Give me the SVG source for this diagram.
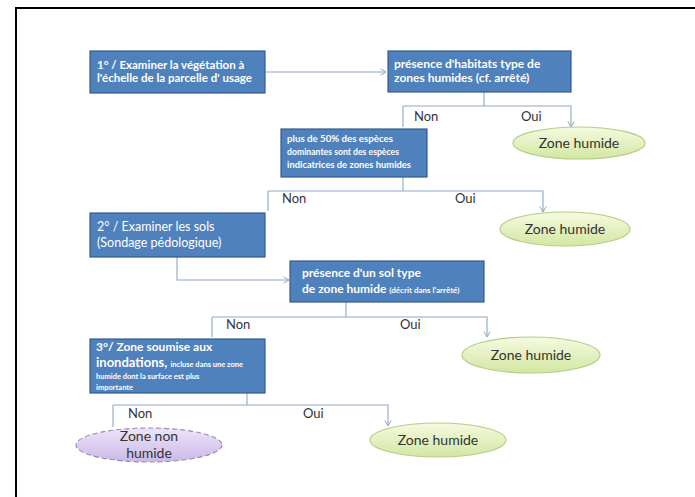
<svg xmlns="http://www.w3.org/2000/svg" width="695" height="497" viewBox="0 0 695 497">
<defs>
<style>
.box{fill:#4F81BD;stroke:#385D8A;stroke-width:1.2}
.bt{fill:#ffffff;font-family:Lato,"Open Sans","Liberation Sans",sans-serif;font-weight:bold}
.bn{fill:#ffffff;font-family:Lato,"Open Sans","Liberation Sans",sans-serif;font-weight:normal}
.lbl{fill:#333333;font-family:Lato,"Open Sans","Liberation Sans",sans-serif;font-size:13px}
.con{fill:none;stroke:#8FA7C4;stroke-width:1.1;marker-end:url(#arr)}
.line{fill:none;stroke:#8FA7C4;stroke-width:1.1}
.ell{fill:url(#gGreen);stroke:#B5CD85;stroke-width:1.2}
.ellp{fill:url(#gPurple);stroke:#9A8AB0;stroke-width:1.1;stroke-dasharray:5 3}
.et{fill:#333333;font-family:Lato,"Open Sans","Liberation Sans",sans-serif;font-size:14px;text-anchor:middle}
</style>
<linearGradient id="gGreen" x1="0" y1="0" x2="0" y2="1">
<stop offset="0" stop-color="#F6FAE0"/>
<stop offset="1" stop-color="#D2E7A2"/>
</linearGradient>
<linearGradient id="gPurple" x1="0" y1="0" x2="0" y2="1">
<stop offset="0" stop-color="#EDE4F8"/>
<stop offset="1" stop-color="#CBB8E8"/>
</linearGradient>
<marker id="arr" markerWidth="8" markerHeight="8" refX="6" refY="4" orient="auto" markerUnits="userSpaceOnUse">
<path d="M0.5,0.8 L6,4 L0.5,7.2" fill="none" stroke="#8FA7C4" stroke-width="1"/>
</marker>
</defs>
<rect width="695" height="497" fill="#ffffff"/>
<path d="M16,497 L16,8 L695,8" fill="none" stroke="#000000" stroke-width="2"/>

<g id="connectors">
<path class="con" d="M265,72 L386,72"/>
<path class="line" d="M484,92 L484,106"/>
<path class="con" d="M403,106 L403,127 M403,106 L571,106 L571,127"/>
<path class="line" d="M403,177 L403,191"/>
<path class="con" d="M268,191 L268,211 M268,191 L543,191 L543,212"/>
<path class="con" d="M177,257 L177,280 L289,280"/>
<path class="line" d="M346,302 L346,317"/>
<path class="con" d="M212,317 L212,337 M212,317 L487,317 L487,337"/>
<path class="line" d="M247,393 L247,405"/>
<path class="con" d="M113,405 L113,427 M113,405 L388,405 L388,426"/>
<text class="lbl" x="414" y="121">Non</text>
<text class="lbl" x="521" y="121">Oui</text>
<text class="lbl" x="282" y="203">Non</text>
<text class="lbl" x="455" y="203">Oui</text>
<text class="lbl" x="226" y="329">Non</text>
<text class="lbl" x="400" y="329">Oui</text>
<text class="lbl" x="128" y="418">Non</text>
<text class="lbl" x="303" y="418">Oui</text>
</g>

<g id="box1">
<rect class="box" x="90" y="51" width="175" height="42"/>
<text class="bt" font-size="11.5" x="97" y="69">1° / Examiner la végétation à</text>
<text class="bt" font-size="11.5" x="97" y="82">l'échelle de la parcelle d' usage</text>
</g>

<g id="box2">
<rect class="box" x="388" y="51" width="183" height="41"/>
<text class="bt" font-size="12" x="394" y="68">présence d'habitats type de</text>
<text class="bt" font-size="12" x="394" y="82">zones humides (cf. arrêté)</text>
</g>

<g id="ell1">
<ellipse class="ell" cx="579" cy="143" rx="66" ry="16"/>
<text class="et" x="579" y="148">Zone humide</text>
</g>

<g id="box3">
<rect class="box" x="281" y="129" width="146" height="48"/>
<text class="bt" font-size="8.5" x="287" y="142" textLength="106" lengthAdjust="spacingAndGlyphs">plus de 50% des espèces</text>
<text class="bt" font-size="8.5" x="287" y="155" textLength="112" lengthAdjust="spacingAndGlyphs">dominantes sont des espèces</text>
<text class="bt" font-size="8.5" x="287" y="168" textLength="124" lengthAdjust="spacingAndGlyphs">indicatrices de zones humides</text>
</g>

<g id="ell2">
<ellipse class="ell" cx="565" cy="229" rx="65" ry="17"/>
<text class="et" x="565" y="234">Zone humide</text>
</g>

<g id="box4">
<rect class="box" x="90" y="213" width="175" height="44"/>
<text class="bn" font-size="12.5" x="97" y="231">2° / Examiner les sols</text>
<text class="bn" font-size="12.5" x="97" y="247">(Sondage pédologique)</text>
</g>

<g id="box5">
<rect class="box" x="290" y="261" width="194" height="41"/>
<text class="bt" font-size="12" x="302" y="277">présence d'un sol type</text>
<text class="bt" font-size="12" x="302" y="293">de zone humide <tspan font-size="8">(décrit dans l'arrêté)</tspan></text>
</g>

<g id="ell3">
<ellipse class="ell" cx="531" cy="355" rx="69" ry="18"/>
<text class="et" x="531" y="360">Zone humide</text>
</g>

<g id="box6">
<rect class="box" x="90" y="339" width="175" height="54"/>
<text class="bt" font-size="12" x="96" y="351">3°/ Zone soumise aux</text>
<text class="bt" font-size="13" x="96" y="367">inondations, <tspan font-size="7.5">incluse dans une zone</tspan></text>
<text class="bt" font-size="7.5" x="96" y="379">humide dont la surface est plus</text>
<text class="bt" font-size="7.5" x="96" y="390">importante</text>
</g>

<g id="ell4">
<ellipse class="ellp" cx="149" cy="445" rx="73" ry="17"/>
<text class="et" x="149" y="441">Zone non</text>
<text class="et" x="149" y="458">humide</text>
</g>

<g id="ell5">
<ellipse class="ell" cx="438" cy="440" rx="68" ry="17"/>
<text class="et" x="438" y="445">Zone humide</text>
</g>
</svg>
